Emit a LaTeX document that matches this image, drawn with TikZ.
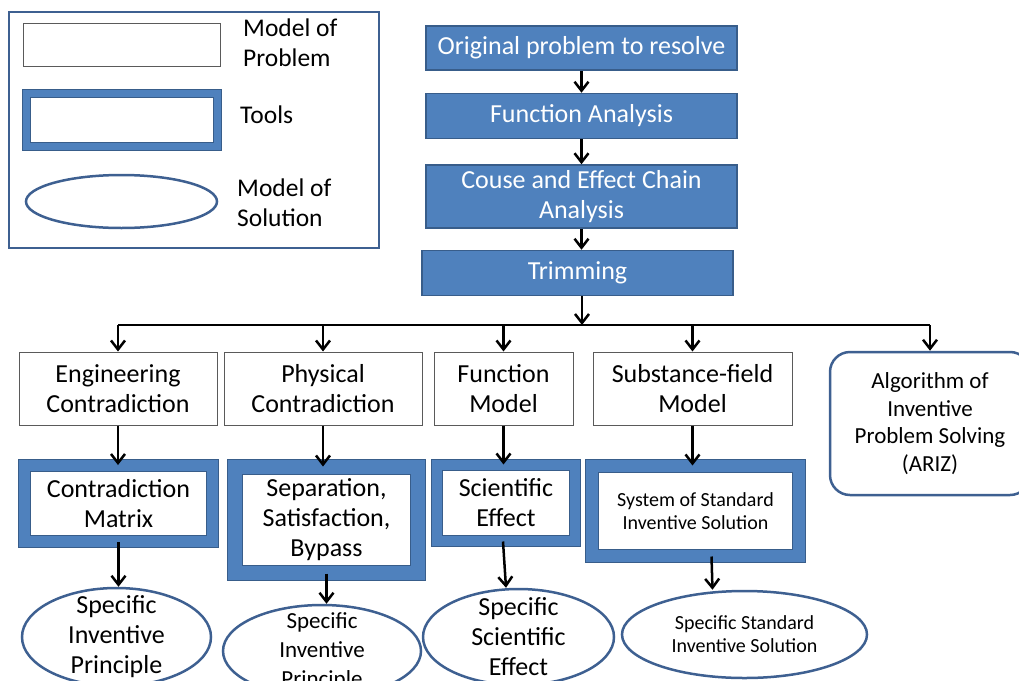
\documentclass[tikz,border=0pt]{standalone}
\usepackage{fontspec}
\setmainfont{Carlito}
\usetikzlibrary{positioning,arrows.meta,shapes.geometric}
\definecolor{flowblue}{RGB}{79,129,189}
\definecolor{flowedge}{RGB}{56,93,138}
\definecolor{frameblue}{RGB}{62,96,145}
\definecolor{probedge}{RGB}{90,90,90}
\newcommand{\fsz}[2]{\fontsize{#1}{#2}\selectfont}

\begin{document}
\begin{tikzpicture}[x=1pt, y=-1pt,
stepnode/.style={rectangle, draw=flowedge, fill=flowblue, line width=1.5pt, text=white, minimum width=311pt, align=center, inner sep=0pt, font=\fsz{26}{30}},
probnode/.style={rectangle, draw=probedge, fill=white, line width=1pt, minimum height=73pt, align=center, inner sep=0pt, font=\fsz{26}{30}},
toolnode/.style={rectangle, draw=flowedge, line width=1pt, double=flowblue, fill=white, align=center, inner sep=0pt, font=\fsz{26}{30}},
solnode/.style={ellipse, draw=frameblue, line width=2.5pt, fill=white, align=center, inner xsep=0pt, inner ysep=-30pt, font=\fsz{26}{30}},
legtext/.style={anchor=west, align=left, inner sep=0pt, font=\fsz{25.5}{30}},
arr/.style={->, >={Straight Barb[length=9pt, width=14pt]}, line width=2.5pt}
]
    \useasboundingbox (0,0) rectangle (1019,680);

    %Legend
    \node[draw=frameblue, line width=2.5pt, minimum width=370pt, minimum height=236pt, inner sep=0pt]
        (legend)    at (194,130)    {};
    \node[probnode, minimum width=197pt, minimum height=43pt]
        (legprob)   at (121.5,44.5) {};
    \node[toolnode, double distance=7pt, minimum width=191pt, minimum height=53pt]
        (legtool)   at (122,120)    {};
    \node[solnode, minimum width=191pt, minimum height=53pt]
        (legsol)    at (121.5,201.5) {};
    \node[legtext]  (legprobtxt) at (243,43)  {Model of\\Problem};
    \node[legtext]  (legtooltxt) at (240,115) {Tools};
    \node[legtext]  (legsoltxt)  at (237,203) {Model of\\Solution};

    %Nodes
    \node[stepnode, minimum height=44pt]
        (orig)                          at (581.5,48)   {Original problem to resolve};
    \node[stepnode, minimum height=45pt]
        (funana)    [below=22pt of orig]                {Function Analysis};
    \node[stepnode, minimum height=63pt]
        (chain)     [below=25pt of funana]              {Couse and Effect Chain\\Analysis};
    \node[stepnode, minimum height=45pt]
        (trim)      [below=21pt of chain, xshift=-4pt]  {Trimming};

    \node[probnode, minimum width=198pt]
        (engcon)                        at (118,388.5)  {Engineering\\Contradiction};
    \node[probnode, minimum width=198pt]
        (phycon)    [right=6pt of engcon]               {Physical\\Contradiction};
    \node[probnode, minimum width=139pt]
        (funmod)    [right=11pt of phycon]              {Function\\Model};
    \node[probnode, minimum width=199pt]
        (subfield)  [right=19pt of funmod]              {Substance-field\\Model};
    \node[rectangle, rounded corners=20pt, draw=frameblue, line width=2.5pt, fill=white,
          minimum width=200pt, minimum height=143pt, align=center, font=\fsz{23}{27.5}]
        (ariz)                          at (930,423.5)  {Algorithm of\\Inventive\\Problem Solving\\(ARIZ)};

    \node[toolnode, double distance=11pt, minimum width=188pt, minimum height=76pt]
        (conmat)    at (118.5,503.5)    {Contradiction\\Matrix};
    \node[toolnode, double distance=14pt, minimum width=183pt, minimum height=106pt]
        (sepsat)    at (326.5,520)      {Separation,\\Satisfaction,\\Bypass};
    \node[toolnode, double distance=10pt, minimum width=138pt, minimum height=76pt]
        (scieff)    at (506,503)        {Scientific\\Effect};
    \node[toolnode, double distance=12pt, minimum width=207pt, minimum height=90pt, font=\fsz{20}{23}]
        (stdsys)    at (695.5,511)      {System of Standard\\Inventive Solution};

    \node[solnode, minimum width=189pt, minimum height=98pt]
        (specprin)  at (116.5,637)      {Specific\\Inventive\\Principle};
    \node[solnode, minimum width=198pt, minimum height=92pt, font=\fsz{23}{29}]
        (specprinb) at (322,651)        {Specific\\Inventive\\Principle};
    \node[solnode, minimum width=191pt, minimum height=96pt]
        (speceff)   at (518.5,637)      {Specific\\Scientific\\Effect};
    \node[solnode, minimum width=245pt, minimum height=87pt, font=\fsz{20}{23}]
        (specstd)   at (744.5,634.5)    {Specific Standard\\Inventive Solution};

    %Lines
    \coordinate (busL) at (engcon.north |- 0,325);
    \coordinate (busR) at (ariz.north |- 0,325);
    \coordinate (busM) at (582,325);
    \draw[line width=2.5pt] (busL) -- (busR);

    \draw[arr] (orig) -- (funana);
    \draw[arr] (funana) -- (chain);
    \draw[arr] (chain.south) -- (chain.south |- trim.north);
    \draw[arr] (busM |- trim.south) -- (busM);

    \foreach \n in {engcon,phycon,funmod,subfield,ariz}
        \draw[arr] (\n.north |- busL) -- (\n.north);

    \draw[arr] (engcon.south) -- (engcon.south |- conmat.north);
    \draw[arr] (phycon.south) -- (phycon.south |- sepsat.north);
    \draw[arr] (funmod.south) -- (funmod.south |- scieff.north);
    \draw[arr] (subfield.south) -- (subfield.south |- stdsys.north);

    \draw[arr] (conmat.south) -- (conmat.south |- specprin.north);
    \draw[arr] (sepsat.south) -- (sepsat.south |- specprinb.north);
    \draw[arr] ([xshift=-3pt]scieff.south) -- (scieff.south |- speceff.north);
    \draw[arr] ([xshift=16pt]stdsys.south) -- ([xshift=-32pt]specstd.north);
\end{tikzpicture}
\end{document}
